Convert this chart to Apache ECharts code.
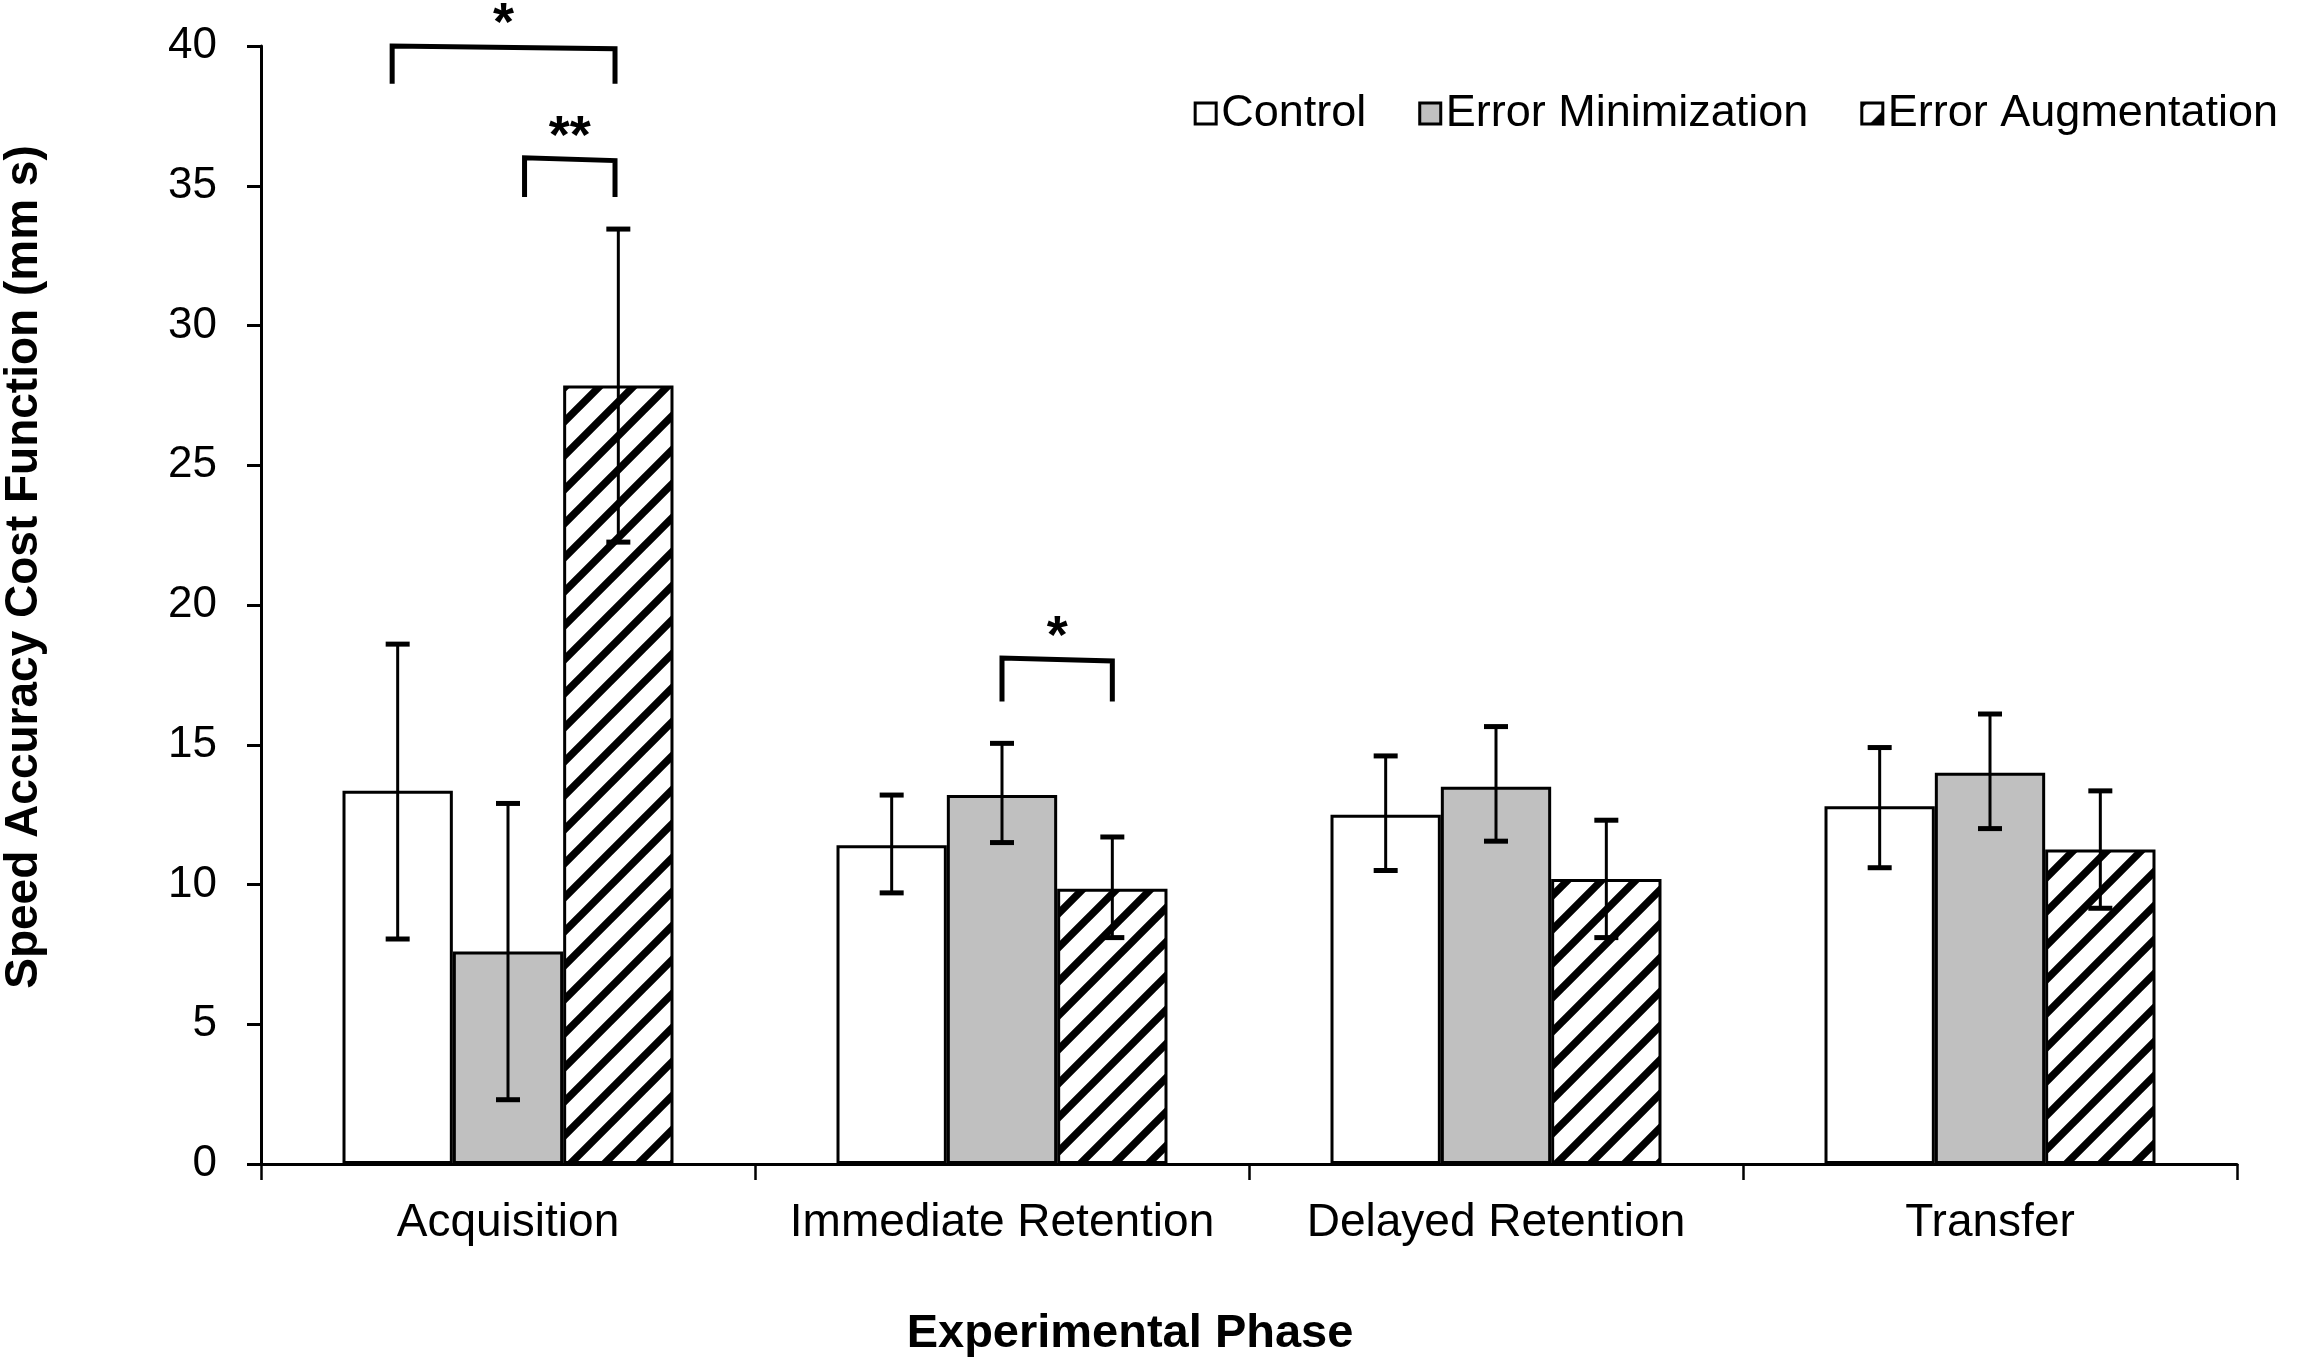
<!DOCTYPE html>
<html>
<head>
<meta charset="utf-8">
<title>Speed Accuracy Cost Function</title>
<script src="https://cdn.jsdelivr.net/npm/echarts@6/dist/echarts.min.js"></script>
<style>
  html, body { margin: 0; padding: 0; background: #fff; }
  #chart { width: 2323px; height: 1362px; }
</style>
</head>
<body>
<div id="chart"></div>
<script>
// values
var categories = ['Acquisition', 'Immediate Retention', 'Delayed Retention', 'Transfer'];
var groupNames = ['Control', 'Error Minimization', 'Error Augmentation'];

var controlMean = [13.35, 11.4, 12.5, 12.8];
var controlLow  = [8.05, 9.7, 10.5, 10.6];
var controlHigh = [18.6, 13.2, 14.6, 14.9];

var minMean = [7.6, 13.2, 13.5, 14.0];
var minLow  = [2.3, 11.5, 11.55, 12.0];
var minHigh = [12.9, 15.05, 15.65, 16.1];

var augMean = [27.85, 9.85, 10.2, 11.25];
var augLow  = [22.25, 8.1, 8.1, 9.15];
var augHigh = [33.45, 11.7, 12.3, 13.35];

var yTicks = { min: 0, max: 40, interval: 5 };

// significance brackets: category, left bar, right bar, top (left/right), leg end, star
var bracketCat    = [0, 0, 1];
var bracketFrom   = [-0.05, 1.15, 1];
var bracketTo     = [1.97, 1.97, 2];
var bracketTopL   = [40.0, 36.0, 18.1];
var bracketTopR   = [39.9, 35.9, 18.0];
var bracketBottom = [38.65, 34.6, 16.55];
var bracketStarY  = [40.75, 36.7, 18.8];
var bracketLabel  = ['*', '**', '*'];

var FONT = "'Liberation Sans', Arial, sans-serif";
var CAT_GAP = 0.33;

// diagonal "/" hatching, one stripe per 34px tile
function makeHatch() {
  var s = 34;
  var c = document.createElement('canvas');
  c.width = s; c.height = s;
  var ctx = c.getContext('2d');
  ctx.fillStyle = '#fff';
  ctx.fillRect(0, 0, s, s);
  ctx.strokeStyle = '#000';
  ctx.lineWidth = 7.5;
  ctx.beginPath();
  ctx.moveTo(-8, 8); ctx.lineTo(8, -8);
  ctx.moveTo(-8, s + 8); ctx.lineTo(s + 8, -8);
  ctx.moveTo(s - 8, s + 8); ctx.lineTo(s + 8, s - 8);
  ctx.stroke();
  return c;
}

// x of the centre of bar number pos inside category cat
function barX(api, cat, pos) {
  var c = api.coord([cat, 0]);
  var band = api.size([1, 0])[0];
  var group = band * (1 - CAT_GAP);
  var bw = group / 3;
  return c[0] - group / 2 + bw * (pos + 0.5);
}

var errData = [];
[[controlLow, controlHigh], [minLow, minHigh], [augLow, augHigh]].forEach(function (p, s) {
  categories.forEach(function (c, i) {
    errData.push([i, s, p[0][i], p[1][i]]);
  });
});

var bracketData = bracketCat.map(function (c, i) {
  return [c, bracketFrom[i], bracketTo[i], bracketTopL[i], bracketTopR[i], bracketBottom[i], bracketStarY[i]];
});

var hatch = { image: makeHatch(), repeat: 'repeat' };
var chart = echarts.init(document.getElementById('chart'));

chart.setOption({
  backgroundColor: '#fff',
  animation: false,
  grid: { left: 261, right: 86, top: 46, bottom: 198, containLabel: false, outerBoundsMode: 'none' },
  legend: {
    data: groupNames,
    right: 40,
    top: 86,
    icon: 'rect',
    itemWidth: 21,
    itemHeight: 21,
    itemGap: 52,
    itemStyle: { borderColor: '#000', borderWidth: 3 },
    textStyle: { fontFamily: FONT, fontSize: 45, color: '#000' }
  },
  xAxis: {
    type: 'category',
    data: categories,
    axisLine: { lineStyle: { color: '#000', width: 3 } },
    axisTick: { show: true, length: 16, lineStyle: { color: '#000', width: 2.5 }, alignWithLabel: false },
    axisLabel: { interval: 0, fontFamily: FONT, fontSize: 46, color: '#000', margin: 36 }
  },
  yAxis: {
    type: 'value',
    min: yTicks.min,
    max: yTicks.max,
    interval: yTicks.interval,
    axisLine: { show: true, lineStyle: { color: '#000', width: 3 } },
    axisTick: { show: true, length: 14, lineStyle: { color: '#000', width: 3 } },
    splitLine: { show: false },
    axisLabel: { fontFamily: FONT, fontSize: 44, color: '#000', margin: 44 }
  },
  graphic: [
    {
      type: 'text', x: 24, y: 567, rotation: Math.PI / 2,
      style: { text: 'Speed Accuracy Cost Function (mm s)', fontFamily: FONT, fontSize: 46, fontWeight: 'bold',
               fill: '#000', align: 'center', verticalAlign: 'middle' }
    },
    {
      type: 'text', x: 1130, y: 1334,
      style: { text: 'Experimental Phase', fontFamily: FONT, fontSize: 47, fontWeight: 'bold',
               fill: '#000', align: 'center', verticalAlign: 'middle' }
    }
  ],
  series: [
    {
      name: groupNames[0], type: 'bar', data: controlMean,
      barGap: '0%', barCategoryGap: (CAT_GAP * 100) + '%',
      itemStyle: { color: '#fff', borderColor: '#000', borderWidth: 3 }
    },
    {
      name: groupNames[1], type: 'bar', data: minMean,
      barGap: '0%', barCategoryGap: (CAT_GAP * 100) + '%',
      itemStyle: { color: '#c0c0c0', borderColor: '#000', borderWidth: 3 }
    },
    {
      name: groupNames[2], type: 'bar', data: augMean,
      barGap: '0%', barCategoryGap: (CAT_GAP * 100) + '%',
      itemStyle: { color: hatch, borderColor: '#000', borderWidth: 3 }
    },
    {
      name: 'error', type: 'custom', z: 10,
      data: errData,
      encode: { x: 0, y: [2, 3] },
      renderItem: function (params, api) {
        var cat = api.value(0);
        var x = barX(api, cat, api.value(1));
        var yl = api.coord([cat, api.value(2)])[1];
        var yh = api.coord([cat, api.value(3)])[1];
        var cap = 12;
        var st = { stroke: '#000', lineWidth: 3 };
        var capSt = { stroke: '#000', lineWidth: 5 };
        return {
          type: 'group',
          children: [
            { type: 'line', shape: { x1: x, y1: yl, x2: x, y2: yh }, style: st },
            { type: 'line', shape: { x1: x - cap, y1: yh, x2: x + cap, y2: yh }, style: capSt },
            { type: 'line', shape: { x1: x - cap, y1: yl, x2: x + cap, y2: yl }, style: capSt }
          ]
        };
      }
    },
    {
      name: 'signif', type: 'custom', z: 11,
      data: bracketData,
      encode: { x: 0, y: [3, 5] },
      renderItem: function (params, api) {
        var cat = api.value(0);
        var x1 = barX(api, cat, api.value(1));
        var x2 = barX(api, cat, api.value(2));
        var yTL = api.coord([cat, api.value(3)])[1];
        var yTR = api.coord([cat, api.value(4)])[1];
        var yB = api.coord([cat, api.value(5)])[1];
        var yS = api.coord([cat, api.value(6)])[1];
        return {
          type: 'group',
          children: [
            { type: 'polyline', shape: { points: [[x1, yB], [x1, yTL], [x2, yTR], [x2, yB]] },
              style: { stroke: '#000', lineWidth: 5, fill: null, lineJoin: 'miter' } },
            { type: 'text', x: (x1 + x2) / 2, y: yS,
              style: { text: bracketLabel[params.dataIndex], fontFamily: FONT, fontSize: 54, fontWeight: 'bold',
                       fill: '#000', align: 'center', verticalAlign: 'middle' } }
          ]
        };
      }
    }
  ]
});
</script>
</body>
</html>
